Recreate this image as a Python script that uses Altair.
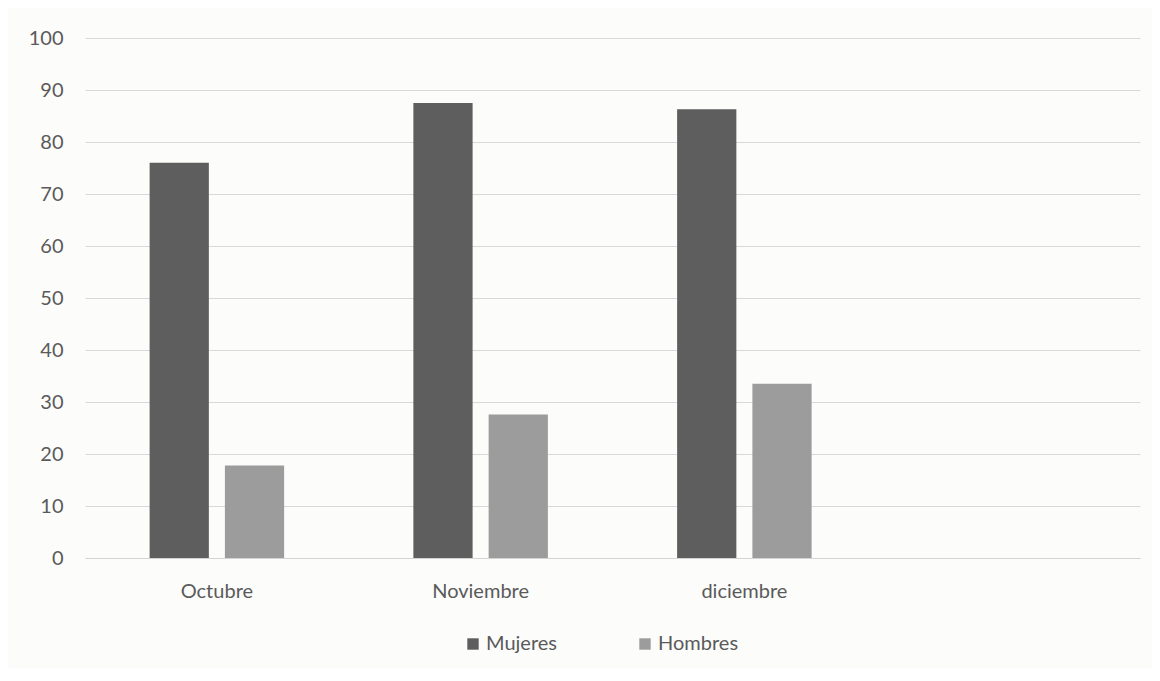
import altair as alt
import pandas as pd

months = ["Octubre", "Noviembre", "diciembre"]
mujeres = [76, 87.5, 86.3]
hombres = [17.8, 27.6, 33.5]
series = ["Mujeres", "Hombres"]
colors = ["#5e5e5e", "#9c9c9c"]
domain_x = months + [" "]

rows = []
for m, mu, ho in zip(months, mujeres, hombres):
    rows.append({"mes": m, "serie": "Mujeres", "valor": mu})
    rows.append({"mes": m, "serie": "Hombres", "valor": ho})
df = pd.DataFrame(rows)

FONT = "Lato"
TXT = "#5a5a5a"

chart = alt.Chart(df).mark_bar().encode(
    x=alt.X("mes:N", sort=domain_x,
            scale=alt.Scale(domain=domain_x, paddingInner=0.49, paddingOuter=0.245),
            axis=alt.Axis(title=None, labelAngle=0, ticks=False, domain=True,
                          domainColor="#d4d4d4", labelPadding=23, labelFontSize=20,
                          labelColor=TXT, labelFont=FONT, grid=False)),
    xOffset=alt.XOffset("serie:N", sort=series,
                        scale=alt.Scale(domain=series, paddingInner=0.213, paddingOuter=0)),
    y=alt.Y("valor:Q", scale=alt.Scale(domain=[0, 100], nice=False),
            axis=alt.Axis(title=None, values=list(range(0, 101, 10)), ticks=False,
                          domain=False, labelPadding=22, labelFontSize=20,
                          labelColor=TXT, labelFont=FONT, gridColor="#d9d9d9",
                          gridWidth=1)),
    color=alt.Color("serie:N", sort=series,
                    scale=alt.Scale(domain=series, range=colors),
                    legend=alt.Legend(title=None, orient="none", direction="horizontal",
                                      legendX=378, legendY=596, symbolType="square",
                                      symbolSize=130, symbolStrokeWidth=0,
                                      labelFontSize=20, labelFont=FONT, labelColor=TXT,
                                      columnPadding=78, labelOffset=3)),
).properties(
    width=1055, height=520,
    autosize=alt.AutoSizeParams(type="none"),
    padding={"left": 77, "top": 30, "right": 12, "bottom": 110},
    background="#fcfcfb",
).configure_view(stroke=None)

chart.save("out.html", embed_options={"renderer": "svg", "actions": False})
